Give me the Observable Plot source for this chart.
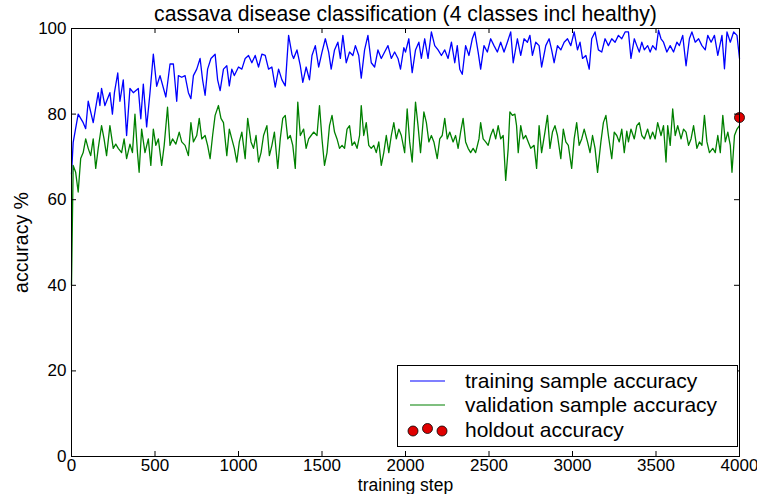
<!DOCTYPE html>
<html>
<head>
<meta charset="utf-8">
<script src="https://cdn.jsdelivr.net/npm/d3@7"></script>
<script src="https://cdn.jsdelivr.net/npm/@observablehq/plot@0.6"></script>
<style>
  html, body { margin: 0; padding: 0; background: #fff; }
  #chart { width: 757px; height: 494px; overflow: hidden; }
</style>
</head>
<body>
<div id="chart"></div>
<script>
const titleText = "cassava disease classification (4 classes incl healthy)";
const xLabel = "training step";
const yLabel = "accuracy %";
const xTicks = [0, 500, 1000, 1500, 2000, 2500, 3000, 3500, 4000];
const yTicks = [0, 20, 40, 60, 80, 100];
const seriesNames = ["training sample accuracy", "validation sample accuracy", "holdout accuracy"];

const trainStep = [0,10,40,70,85,100,130,160,170,180,200,230,245,257,277,290,310,330,350,370,400,415,430,450,470,490,510,530,565,590,610,630,640,660,680,700,715,730,750,770,785,800,815,835,860,875,890,910,930,945,960,975,1000,1020,1040,1060,1080,1100,1120,1140,1160,1180,1200,1220,1240,1260,1280,1300,1320,1330,1350,1370,1385,1405,1425,1440,1460,1480,1500,1520,1540,1555,1575,1595,1610,1625,1645,1665,1685,1700,1720,1735,1755,1775,1795,1815,1835,1855,1875,1895,1915,1935,1955,1970,1990,2000,2020,2040,2060,2080,2095,2115,2135,2155,2175,2195,2215,2235,2255,2275,2295,2310,2325,2340,2360,2380,2400,2415,2435,2450,2470,2490,2510,2530,2550,2570,2590,2610,2630,2645,2670,2690,2710,2730,2745,2760,2780,2800,2815,2840,2860,2875,2890,2910,2930,2950,2970,2990,3010,3030,3045,3060,3080,3100,3115,3135,3155,3175,3195,3215,3235,3255,3275,3295,3315,3335,3350,3370,3385,3400,3415,3430,3450,3465,3480,3500,3515,3530,3545,3565,3585,3605,3625,3640,3660,3680,3700,3715,3735,3755,3775,3795,3810,3830,3850,3870,3895,3910,3925,3945,3965,3985,4000];
const trainAcc = [66,73.4,80,78,76.6,83,78,85,82,86,82,85,80,85,89.6,83,88,75,86,85,86,78.9,87,77,85,94,86.5,89,84,91.7,91.7,83,89,88.6,89,85,83.6,89,90.5,93,88,84.4,90.5,93,94,88,85.5,90.5,91.3,86.6,90.5,89,91,90.5,93,93.7,92,93.7,91,94,93.7,90.5,91,86.3,90.5,88,86.6,98.4,94,93,95,91.3,87.4,91,88,93.7,96,91,94.5,97.6,94.5,90.5,95,96.8,93,98.4,92,94.5,93.7,96,93.7,88.4,95,98.4,92,91,95,93,94.5,96,93,94.5,93,90.5,95.5,94.5,97.6,89.7,95,96.8,93,97.6,93,99.2,96,95,93.7,95,93,96.8,92,96,90.5,89.3,96,93.7,97.6,99.2,94.5,90.5,96,94.5,97.6,96,94.5,96.8,94.5,96.8,99.2,92,97.6,93.7,97.6,96.8,98.4,93.7,96.8,96,91,96,97.6,95,92,96,95,96.8,97.6,96,99.2,95,96.8,93,93.7,90.5,97.6,99.2,95,94.5,97.6,96,97.6,96.8,98.4,97.6,99.2,99.2,93,97.6,96,94.5,96.8,95,96,94.5,96,95,99.6,97.6,96.8,94.5,96,94.5,96.8,96,98.4,91.3,97.6,99.2,96.8,97.6,96,95,98.4,96.8,98.4,93.7,98.4,90.6,99.2,96.8,99.2,98.4,93];

const valStep = [0,10,25,40,55,70,85,100,115,130,145,160,180,195,210,230,250,265,280,300,315,330,350,365,380,395,405,420,440,460,475,490,505,520,540,555,575,590,605,625,645,660,680,700,715,730,750,765,780,800,815,830,845,860,880,895,910,930,945,960,975,990,1005,1020,1040,1055,1075,1090,1105,1120,1135,1150,1170,1185,1200,1215,1235,1250,1265,1280,1295,1310,1325,1340,1355,1370,1390,1405,1420,1435,1450,1470,1485,1500,1515,1530,1545,1560,1575,1590,1605,1620,1635,1650,1665,1680,1695,1710,1725,1735,1750,1765,1780,1795,1810,1825,1840,1855,1870,1885,1900,1915,1930,1945,1960,1975,1995,2010,2025,2040,2060,2075,2090,2110,2125,2140,2155,2170,2190,2205,2220,2235,2250,2265,2285,2300,2315,2330,2345,2360,2375,2390,2405,2420,2440,2450,2465,2480,2495,2510,2525,2540,2555,2570,2585,2600,2615,2625,2640,2655,2665,2675,2690,2705,2720,2735,2750,2770,2785,2800,2815,2835,2850,2865,2880,2895,2910,2930,2945,2960,2975,2995,3010,3025,3040,3055,3070,3090,3105,3120,3135,3150,3170,3185,3200,3215,3235,3250,3265,3280,3295,3310,3325,3335,3350,3370,3385,3400,3415,3430,3450,3465,3480,3495,3510,3530,3545,3560,3570,3585,3600,3615,3630,3650,3665,3680,3695,3710,3725,3745,3760,3775,3790,3805,3820,3840,3855,3870,3885,3900,3915,3930,3945,3955,3970,3985,4000];
const valAcc = [40,68,66.4,61.8,69.6,71,74.2,72,70.3,74.2,67.3,72,77.3,74.2,70.3,77.3,72,73,72,71,74.2,69.6,73,71,80,71,66.4,76.5,71,74.2,68,76.5,72.7,74.2,68,72.7,81.6,72.7,74.2,73,75.8,73.5,72.7,70.3,78,73.5,75,79,74.2,75,72.7,69.6,75,79.7,82,79,78,70.3,76.5,74.2,72,68.8,73.5,75.8,69.6,79,73.5,72,75,68.8,71,75,77.3,70.3,72.7,75.8,67.3,74.2,79,79.7,74.2,75,72.7,67.3,82.8,75,76.5,72,74.2,75,75.8,75,82,74.2,68,71,77.3,79.7,75.8,74.2,72,72.7,72,76.5,77.3,72.7,73.5,72,75,82,75,78,72.7,72,72.7,71,73.5,68,71,75,71,75,78,74.2,76.5,75,71,81.2,73.5,68.8,82.8,77.3,71,80.5,78,73.5,75,73.5,69.6,74.2,75,79,74.2,75.8,73.5,75,72,75.8,79,73.5,72,71,72,71,74.2,78,74.2,73.5,72.7,75,76.5,74.2,77.3,74.2,75,64.5,72,80.5,79.7,80,77.3,71,77.3,74.2,75,73.5,72,72.7,67.3,77.3,71,75.8,79.7,72,75.8,77.3,75,69.6,76.5,73.5,72.7,67.3,74.2,78,72.7,74.2,76.5,73.5,71,75,72,66.4,73.5,78,79.7,75,69.6,75.8,75,73.5,76.5,71,76,73.5,76.5,74.2,77.3,78,75,74.2,76.5,74.2,75.8,74.2,78,75,77.3,68.8,77.3,72.7,81.2,75,77.3,74.2,76.5,75.8,72.7,74.2,77.3,72,73.5,72.7,79.7,73.5,71,72,71,75,71,79.7,73.5,75.8,72.7,66.4,75,76.5,77.3];

const holdoutStep = [4000];
const holdoutAcc = [79.2];

const train = trainStep.map((s, i) => ({step: s, acc: trainAcc[i]}));
const val = valStep.map((s, i) => ({step: s, acc: valAcc[i]}));
const holdout = holdoutStep.map((s, i) => ({step: s, acc: holdoutAcc[i]}));

const FONT = "'Liberation Sans', Arial, sans-serif";
const FS = 17;
const LFS = 21;

const chart = Plot.plot({
  width: 757,
  height: 494,
  marginLeft: 71,
  marginRight: 18,
  marginTop: 28,
  marginBottom: 38,
  style: {fontFamily: FONT, fontSize: FS + "px", background: "#fff", color: "#000", overflow: "visible"},
  x: {domain: [0, 4000]},
  y: {domain: [0, 100]},
  marks: [
    Plot.line(train, {x: "step", y: "acc", stroke: "#0000ff", strokeWidth: 1.3}),
    Plot.line(val, {x: "step", y: "acc", stroke: "#008000", strokeWidth: 1.3}),
    Plot.dot(holdout, {x: "step", y: "acc", r: 5, fill: "#e00000", stroke: "#000", strokeWidth: 0.8}),
    Plot.frame({stroke: "#000", strokeWidth: 1}),
    Plot.ruleX(xTicks, {x: d => d, insetTop: 423, stroke: "#000"}),
    Plot.ruleX(xTicks, {x: d => d, insetBottom: 423, stroke: "#000"}),
    Plot.ruleY(yTicks, {y: d => d, insetRight: 663, stroke: "#000"}),
    Plot.ruleY(yTicks, {y: d => d, insetLeft: 663, stroke: "#000"}),
    Plot.axisX(xTicks, {tickSize: 0, tickPadding: 2, label: null, fontSize: FS, tickFormat: "d"}),
    Plot.axisY(yTicks, {tickSize: 0, tickPadding: 5, label: null, fontSize: FS, tickFormat: "d"}),
    Plot.text([titleText], {frameAnchor: "top", dy: -14, lineAnchor: "middle", textAnchor: "middle", fontSize: 21.2, text: d => d}),
    Plot.text([xLabel], {frameAnchor: "bottom", dy: 28.5, lineAnchor: "middle", textAnchor: "middle", fontSize: 17.5, text: d => d}),
    Plot.text([yLabel], {frameAnchor: "left", dx: -50, rotate: -90, lineAnchor: "middle", textAnchor: "middle", fontSize: 19.5, text: d => d})
  ]
});

document.getElementById("chart").appendChild(chart);

// Legend box
const svg = d3.select(chart);
const lg = svg.append("g").attr("font-family", FONT).attr("font-size", LFS).attr("text-anchor", "start");
lg.append("rect").attr("x", 397.5).attr("y", 365.5).attr("width", 340).attr("height", 81)
  .attr("fill", "#fff").attr("stroke", "#000").attr("stroke-width", 1);
const rows = [
  {name: seriesNames[0], color: "#0000ff", y: 381},
  {name: seriesNames[1], color: "#008000", y: 405},
  {name: seriesNames[2], color: "#e00000", y: 430, dots: true}
];
rows.forEach(r => {
  if (r.dots) {
    [[413, 1], [427.5, -1.5], [442, 1]].forEach(([cx, o]) => {
      lg.append("circle").attr("cx", cx).attr("cy", r.y + o).attr("r", 5)
        .attr("fill", r.color).attr("stroke", "#000").attr("stroke-width", 0.8);
    });
  } else {
    lg.append("line").attr("x1", 410).attr("x2", 445).attr("y1", r.y).attr("y2", r.y)
      .attr("stroke", r.color).attr("stroke-width", 1.2);
  }
  lg.append("text").attr("x", 465).attr("y", r.y).attr("dy", "0.35em").attr("text-anchor", "start").text(r.name);
});
</script>
</body>
</html>
